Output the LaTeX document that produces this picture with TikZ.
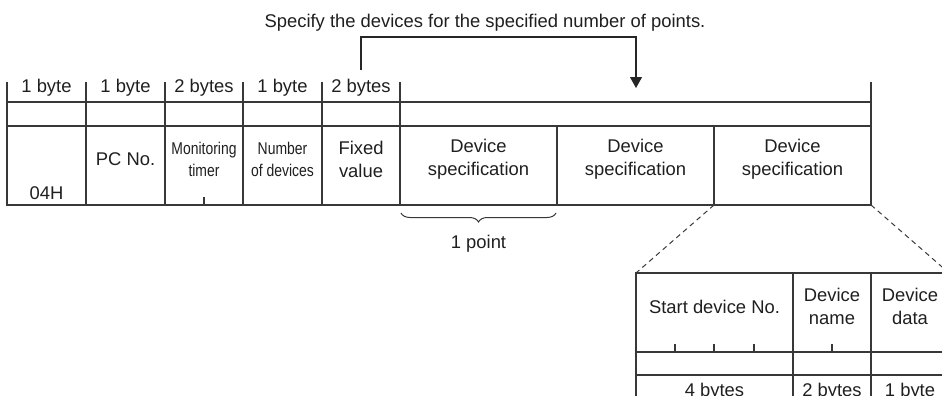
\documentclass[tikz,border=0pt]{standalone}
\usepackage{fontspec}
\setmainfont{Liberation Sans}
\newfontfamily\narrowfont[FakeStretch=0.82]{Liberation Sans}
\usepackage{tikz}
\usetikzlibrary{arrows.meta, positioning, calc, decorations.pathreplacing}

\begin{document}
\begin{tikzpicture}[
    x=1pt, y=-1pt,
    frame/.style={draw=black!78, line width=1.1pt},
    lbl/.style={font=\fontsize{18.4}{23}\selectfont, text=black!88, align=center, inner sep=0pt},
    slim/.style={font=\narrowfont\fontsize{17}{22}\selectfont, text=black!88, align=center, inner sep=0pt},
    zoomline/.style={draw=black!78, line width=1pt, dash pattern=on 5pt off 4pt},
    arr/.style={-{Triangle[length=11pt,width=12pt]}, draw=black!85, line width=1.1pt}
]
\useasboundingbox (0,0) rectangle (942,396);
\clip (0,0) rectangle (942,396);

% Main frame
\draw[frame] (7,82) -- (7,205) -- (871,205) -- (871,82);
\draw[frame] (7,102) -- (871,102);
\draw[frame] (7,126) -- (871,126);
\foreach \x in {86,165,243,322,400}
    \draw[frame] (\x,82) -- (\x,205);
\foreach \x in {557,714}
    \draw[frame] (\x,126) -- (\x,205);
\draw[frame] (204,197) -- (204,205);

% Byte sizes
\node[lbl] (b1) at (46.5,88) {1 byte};
\node[lbl] (b2) at (125.5,88) {1 byte};
\node[lbl] (b3) at (204,88) {2 bytes};
\node[lbl] (b4) at (282.5,88) {1 byte};
\node[lbl] (b5) at (361,88) {2 bytes};

% Fields
\node[lbl] (cmd) at (46.5,192.7) {04H};
\node[lbl] (pcno) at (125.5,158.7) {PC No.};
\node[slim] (timer) at (204,159) {Monitoring\\timer};
\node[slim] (num) at (282.5,159) {Number\\of devices};
\node[lbl] (fixed) at (361,159) {Fixed\\value};
\node[lbl] (spec1) at (478.5,159.5) {Device\\specification};
\node[lbl] (spec2) at (635.5,159.5) {Device\\specification};
\node[lbl] (spec3) at (792.5,159.5) {Device\\specification};

% Note with arrow
\node[lbl] (note) at (485,23) {Specify the devices for the specified number of points.};
\coordinate (arrstart) at (361,70);
\coordinate (arrend) at (636,88);
\draw[arr] (arrstart) -- ++(0,-33) -| (arrend);

% One point
\coordinate (brl) at (401,213);
\coordinate (brr) at (556,213);
\draw[frame, line width=1pt, decorate, decoration={brace, mirror, amplitude=9pt}] (brl) -- (brr);
\node[lbl] (onept) at (478.5,244) {1 point};

% Zoom lines
\coordinate (spec3sw) at (714,205);
\coordinate (spec3se) at (871,205);
\coordinate (subnw) at (636,273);
\coordinate (subne) at (949,273);
\draw[zoomline] (spec3sw) -- (subnw);
\draw[zoomline] (spec3se) -- (subne);

% Device specification detail
\draw[frame] (636,410) -- (subnw) -- (980,273);
\draw[frame] (636,352) -- (980,352);
\draw[frame] (636,375) -- (980,375);
\foreach \x in {793,871,949}
    \draw[frame] (\x,273) -- (\x,410);
\foreach \x in {675,714,754,832}
    \draw[frame] (\x,344) -- (\x,352);

\node[lbl] (start) at (714.5,307) {Start device No.};
\node[lbl] (dname) at (832,306) {Device\\name};
\node[lbl] (ddata) at (910,306) {Device\\data};
\node[lbl] (s4) at (714.5,392) {4 bytes};
\node[lbl] (s2) at (832,392) {2 bytes};
\node[lbl] (s1) at (910,392) {1 byte};
\end{tikzpicture}
\end{document}
